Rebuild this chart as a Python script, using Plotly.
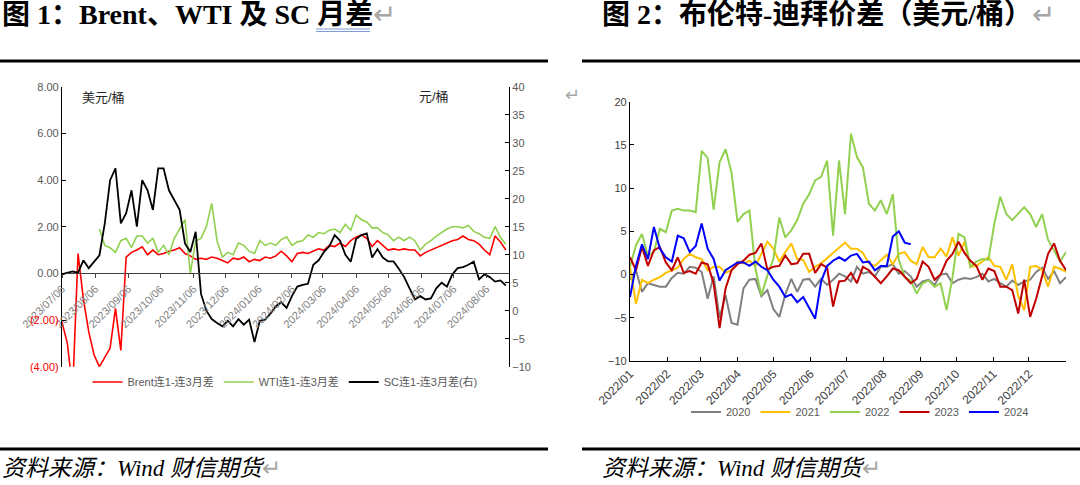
import pandas as pd
import plotly.graph_objects as go

W, H = 1080, 485

# ---- figure 1: Brent / WTI / SC spreads, sampled every 5 days from 2023-07-06
left_start = "2023-07-06"
brent = [
    -2.1, -3.0, -5.0, 0.85, -1.1, -2.5, -3.5, -4.0, -3.6, -3.2,
    -1.5, -3.3, 0.7, 0.9, 1.0, 1.14, 0.8, 1.0, 0.8, 0.85,
    0.95, 1.0, 1.1, 0.85, 0.75, 0.6, 0.65, 0.6, 0.7, 0.65,
    0.55, 0.45, 0.65, 0.6, 0.7, 0.5, 0.6, 0.55, 0.7, 0.65,
    0.75, 0.95, 0.75, 0.5, 0.85, 0.9, 0.85, 0.95, 1.05, 1.0,
    1.2, 1.15, 1.3, 1.15, 1.4, 1.55, 1.65, 1.5, 1.15, 1.4,
    1.2, 1.0, 1.05, 1.0, 1.05, 1.0, 1.0, 0.75, 0.9, 1.0,
    1.1, 1.2, 1.3, 1.4, 1.45, 1.6, 1.45, 1.4, 1.25, 1.0,
    0.8, 1.6, 1.35, 1.0,
]
wti = [
    None, None, None, None, None, None, None, 1.9, 1.2, 1.1,
    0.9, 1.4, 1.5, 1.1, 1.6, 1.6, 1.3, 1.5, 0.9, 1.2,
    0.8, 1.5, 1.9, 2.3, 0.0, 1.4, 1.5, 2.0, 3.0, 1.4,
    0.7, 0.9, 0.8, 1.3, 1.2, 0.95, 0.85, 1.4, 1.2, 1.3,
    1.2, 1.45, 1.57, 1.2, 1.35, 1.4, 1.65, 1.55, 1.75, 1.7,
    1.85, 1.9, 1.75, 2.1, 1.85, 2.5, 2.3, 2.2, 1.95, 1.95,
    1.75, 1.65, 1.4, 1.55, 1.4, 1.55, 1.4, 1.0, 1.25, 1.4,
    1.6, 1.75, 1.9, 2.0, 2.0, 1.95, 2.05, 1.8, 1.7, 1.55,
    1.5, 2.0, 1.55, 1.25,
]
sc = [
    6.5, 6.8, 7.0, 6.8, 9.0, 7.6, 8.75, 9.9, 15.6, 23.3,
    25.4, 15.6, 17.4, 21.5, 15.0, 23.3, 21.5, 18.0, 25.4, 25.4,
    21.5, 19.8, 18.0, 12.0, 10.5, 14.1, 3.0, 0.0, -1.5, -2.2,
    -2.8, -1.8, -2.8, -1.5, -2.5, -1.6, -5.6, -1.8, -1.6, -0.5,
    0.8, 1.5, 0.5, 2.6, 4.3, 4.6, 4.8, 8.2, 9.0, 10.5,
    11.5, 13.5, 12.5, 10.0, 8.75, 12.8, 13.5, 13.8, 9.5, 11.0,
    9.5, 8.8, 8.8, 7.5, 6.0, 4.0, 2.0, 2.6, 2.0, 2.2,
    4.0, 5.0, 4.3, 6.5, 7.6, 7.8, 8.2, 8.75, 5.6, 6.5,
    6.0, 5.2, 5.4, 4.5,
]
left_ticks = [
    "2023/07/06", "2023/08/06", "2023/09/06", "2023/10/06", "2023/11/06",
    "2023/12/06", "2024/01/06", "2024/02/06", "2024/03/06", "2024/04/06",
    "2024/05/06", "2024/06/06", "2024/07/06", "2024/08/06",
]
left_y_vals = [-4, -2, 0, 2, 4, 6, 8]
left_y_text = ["(4.00)", "(2.00)", "0.00", "2.00", "4.00", "6.00", "8.00"]

# ---- figure 2: Brent-Dubai spread by year, sampled every 5 days on a 2022 calendar
right_start = "2022-01-01"
y2020 = [
    -0.6, 0.5, -2.0, -1.0, -1.2, -1.4, -1.4, -0.4, 0.2, 0.1,
    0.9, 0.8, 0.3, -2.8, -0.2, -5.0, -2.4, -5.6, -5.8, -1.6,
    -0.6, -0.5, -2.5, -1.8, -4.0, -4.9, -2.3, -0.5, -2.0, -0.6,
    -0.5, -1.4, -0.5, -1.2, -0.6, 0.1, -0.2, -0.8, 0.9, 0.1,
    0.3, -0.2, 0.9, 0.9, 1.2, 0.1, 0.4, -0.2, -1.4, -0.8,
    -0.6, -1.2, 0.0, 0.1, -1.0, -0.6, -0.4, -0.5, -0.3, 0.1,
    -0.8, -0.5, -1.0, -1.4, -0.7, -1.2, -0.8, -0.6, 0.3, 0.8,
    -0.5, 0.4, -1.0, -0.3,
]
y2021 = [
    0.9, -3.4, -0.6, -1.0, -0.6, -0.3, 0.2, 0.5, 0.8, 1.8,
    2.4, 2.0, 1.8, 0.5, 0.9, 0.9, 0.2, 0.5, 1.5, 1.3,
    1.6, 1.0, 2.5, 3.8, 3.0, 1.5, 2.6, 3.6, 1.8, 1.7,
    0.3, 0.9, 1.3, 1.9, 2.5, 3.0, 3.7, 3.0, 3.0, 2.5,
    1.3, 1.0, 1.6, 2.3, 1.2, 2.4, 2.6, 1.6, 1.2, 3.2,
    2.0, 2.0, 3.0, 2.1, 4.3, 2.2, 3.8, 0.9, 1.0, 1.5,
    2.0, 1.0, 0.9, -0.6, 1.2, -2.5, -4.1, 0.9, 1.0, 0.5,
    -1.4, 0.9, 0.7, 0.3,
]
y2022 = [
    0.9, 3.4, 4.7, 2.2, 2.6, 5.3, 4.9, 7.4, 7.6, 7.4,
    7.4, 7.2, 14.3, 13.5, 7.5, 13.0, 14.5, 11.8, 6.1, 7.0,
    7.4, 0.7, -2.4, -0.1, 1.8, 6.6, 4.3, 5.1, 6.3, 8.2,
    9.3, 10.9, 11.3, 13.2, 4.5, 13.2, 7.0, 16.3, 13.6, 12.4,
    8.2, 7.4, 8.6, 7.0, 9.3, 1.7, -0.3, -0.7, -2.2, -1.0,
    -0.7, -1.4, -1.0, -4.1, -0.3, 4.7, 4.3, 0.9, 1.5, 1.8,
    1.7, 5.9, 9.0, 7.0, 6.3, 7.0, 7.8, 7.0, 5.5, 7.0,
    4.0, 2.8, 1.5, 2.6,
]
y2023 = [
    2.0, 0.5, 3.2, 1.0, 2.8, 3.2, 1.4, 0.5, 2.0, 0.2,
    0.4, 0.1, 1.4, 1.2, -1.0, -6.2, -1.6, 0.5, 1.2, 1.6,
    2.3, 2.5, 3.6, 0.6, 0.9, 1.0, 2.2, 1.2, 1.3, 2.4,
    2.4, 0.2, 1.2, 0.8, -3.7, -0.8, -0.7, 0.2, -1.0, 0.9,
    0.5, -0.3, -1.0, -0.2, 0.7, 0.5, -0.3, -1.0, -0.5, 1.5,
    0.9, -0.6, 0.0, 1.6, 2.4, 3.8, 2.5, 1.6, 1.0, -0.6,
    0.7, 0.4, -1.4, -1.4, -1.8, -4.5, -0.6, -4.9, -2.8, -0.3,
    2.4, 3.6, 1.6, 0.5,
]
y2024 = [
    -2.6, 1.0, 3.5, 1.8, 5.5, 3.0, 2.0, 1.5, 4.5, 4.2,
    2.6, 3.3, 5.9, 3.0, 1.8, -0.7, 0.5, 0.9, 1.4, 1.4,
    1.0, 1.5, 0.9, 0.5, -0.6, -1.4, -2.6, -2.3, -3.2, -2.6,
    -3.8, -5.1, -0.8, 1.0, 1.6, 2.0, 1.6, 2.2, 2.4, 1.4,
    1.5, 0.5, 1.0, 1.0, 4.4, 5.0, 3.7, 3.5,
]
right_ticks = [
    "2022/01", "2022/02", "2022/03", "2022/04", "2022/05", "2022/06",
    "2022/07", "2022/08", "2022/09", "2022/10", "2022/11", "2022/12",
]
year_series = [
    ("2020", y2020, "#808080"),
    ("2021", y2021, "#FFC000"),
    ("2022", y2022, "#92D050"),
    ("2023", y2023, "#C00000"),
    ("2024", y2024, "#0000FF"),
]


def px_x(x):
    return x / W


def px_y(y):
    return 1 - y / H


SANS = "Liberation Sans, Noto Sans CJK SC, sans-serif"
SERIF = "Liberation Serif, Noto Sans CJK SC, serif"

fig = go.Figure()

left_dates = pd.date_range(left_start, periods=len(brent), freq="5D")
fig.add_trace(go.Scatter(x=left_dates, y=brent, mode="lines", name="Brent连1-连3月差",
                         line=dict(color="#FF0000", width=1.6), xaxis="x", yaxis="y", legend="legend"))
fig.add_trace(go.Scatter(x=left_dates, y=wti, mode="lines", name="WTI连1-连3月差",
                         line=dict(color="#92D050", width=1.6), xaxis="x", yaxis="y", legend="legend"))
fig.add_trace(go.Scatter(x=left_dates, y=sc, mode="lines", name="SC连1-连3月差(右)",
                         line=dict(color="#000000", width=1.8), xaxis="x", yaxis="y2", legend="legend"))

for name, vals, color in year_series:
    fig.add_trace(go.Scatter(x=pd.date_range(right_start, periods=len(vals), freq="5D"), y=vals,
                             mode="lines", name=name, line=dict(color=color, width=2),
                             xaxis="x2", yaxis="y3", legend="legend2"))

neg = "<span style='color:#FF0000'>%s</span>"
left_y_labels = [neg % t if v < 0 else t for v, t in zip(left_y_vals, left_y_text)]

tick_font = dict(family=SANS, size=11, color="#595959")
fig.update_layout(
    template="none",
    width=W, height=H,
    margin=dict(l=0, r=0, t=0, b=0, autoexpand=False),
    paper_bgcolor="white", plot_bgcolor="white",
    xaxis=dict(
        domain=[px_x(62), px_x(509)], anchor="free", position=px_y(273.3), automargin=False,
        range=["2023-07-06", "2024-08-27"],
        tickvals=pd.to_datetime(left_ticks, format="%Y/%m/%d"), ticktext=left_ticks,
        tickangle=-45, ticks="outside", ticklen=4, tickcolor="#404040",
        showline=True, linecolor="#404040", linewidth=1, showgrid=False, zeroline=False,
        tickfont=dict(family=SANS, size=11, color="#7F7F7F"),
    ),
    yaxis=dict(
        domain=[px_y(366.7), px_y(86.7)], anchor="x", range=[-4, 8], automargin=False,
        tickvals=left_y_vals, ticktext=left_y_labels,
        ticks="inside", ticklen=4, tickcolor="#000000",
        showline=True, linecolor="#000000", linewidth=1.2, showgrid=False, zeroline=False,
        tickfont=tick_font,
    ),
    yaxis2=dict(
        overlaying="y", side="right", anchor="x", range=[-10, 40], dtick=5, tick0=-10,
        automargin=False,
        ticks="inside", ticklen=4, tickcolor="#000000",
        showline=True, linecolor="#000000", linewidth=1.2, showgrid=False, zeroline=False,
        tickfont=tick_font,
    ),
    xaxis2=dict(
        domain=[px_x(630), px_x(1066)], anchor="y3", automargin=False,
        range=["2022-01-01", "2023-01-01"],
        tickvals=pd.to_datetime(right_ticks, format="%Y/%m"), ticktext=right_ticks,
        tickangle=-45, ticks="inside", ticklen=4, tickcolor="#000000",
        showline=True, linecolor="#000000", linewidth=1.2, showgrid=False, zeroline=False,
        tickfont=dict(family=SANS, size=12, color="#404040"),
    ),
    yaxis3=dict(
        domain=[px_y(361), px_y(101.7)], anchor="x2", range=[-10, 20], dtick=5, tick0=-10,
        automargin=False,
        ticks="inside", ticklen=4, tickcolor="#000000",
        showline=True, linecolor="#000000", linewidth=1.2, showgrid=False, zeroline=False,
        tickfont=dict(family=SANS, size=11, color="#404040"),
    ),
    legend=dict(
        orientation="h", x=px_x(285), xanchor="center", y=px_y(382), yanchor="middle",
        font=dict(family=SANS, size=11, color="#595959"), itemwidth=30,
        bgcolor="rgba(0,0,0,0)",
    ),
    legend2=dict(
        orientation="h", x=px_x(860), xanchor="center", y=px_y(412), yanchor="middle",
        font=dict(family=SANS, size=11, color="#595959"), itemwidth=30,
        bgcolor="rgba(0,0,0,0)",
    ),
    showlegend=True,
)

ret = "<span style='color:#A6A6A6'>↵</span>"
texts = [
    ("<b>图 1：Brent、WTI 及 SC 月差</b>" + ret, 0, 14, 28, SERIF),
    ("<b>图 2：布伦特-迪拜价差（美元/桶）</b>" + ret, 600, 14, 28, SERIF),
    ("<i>资料来源：Wind 财信期货</i>" + ret, 0, 468, 23, SERIF),
    ("<i>资料来源：Wind 财信期货</i>" + ret, 600, 468, 23, SERIF),
    ("美元/桶", 80, 98, 13, SANS),
    ("元/桶", 417, 97, 13, SANS),
    (ret, 563, 95, 18, SANS),
]
for text, x, y, size, family in texts:
    fig.add_annotation(text=text, xref="paper", yref="paper", x=px_x(x), y=px_y(y),
                       xanchor="left", yanchor="middle", showarrow=False,
                       font=dict(family=family, size=size, color="#000000" if size > 15 else "#262626"))

# page rules above and below each figure
for x0, x1 in [(0, 548), (582, 1080)]:
    for y in (61, 449):
        fig.add_shape(type="line", xref="paper", yref="paper",
                      x0=px_x(x0), x1=px_x(x1), y0=px_y(y), y1=px_y(y),
                      line=dict(color="#000000", width=3))
# spell-check style double underline under the last two characters
for y in (29, 31.5):
    fig.add_shape(type="line", xref="paper", yref="paper",
                  x0=px_x(316), x1=px_x(370), y0=px_y(y), y1=px_y(y),
                  line=dict(color="#7F9BD6", width=1))

# the page body has a default 8px margin; drop it so the figure sits flush in the window
fig.write_html("out.html", config={"displayModeBar": False},
               post_script="document.body.style.margin='0';")
